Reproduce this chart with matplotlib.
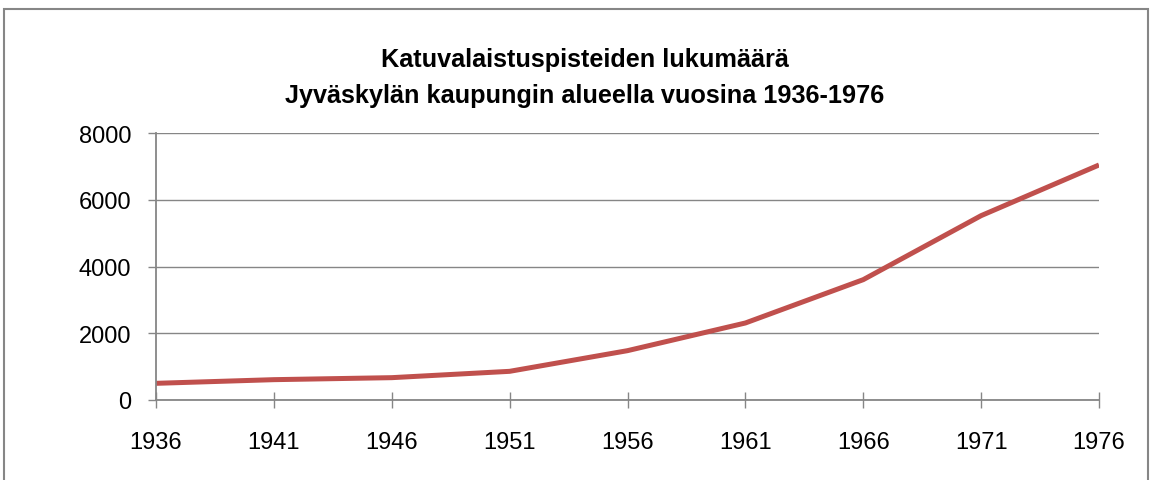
import matplotlib.pyplot as plt
from matplotlib.patches import Rectangle

# vuodet ja katuvalaistuspisteiden määrä
vuodet = ['1936', '1941', '1946', '1951', '1956', '1961', '1966', '1971', '1976']
pisteet = [500, 610, 670, 860, 1480, 2310, 3610, 5530, 7050]
y_ticks = [0, 2000, 4000, 6000, 8000]
otsikko1 = 'Katuvalaistuspisteiden lukumäärä'
otsikko2 = 'Jyväskylän kaupungin alueella vuosina 1936-1976'

plt.rcParams['font.family'] = ['Liberation Sans', 'DejaVu Sans']
harmaa = '#868686'

W, H = 1150, 481
fig = plt.figure(figsize=(W / 100, H / 100), dpi=100)

# kehys kuvan ympärillä
fig.patches.append(Rectangle((4 / W, -0.1), 1144 / W, 1.1 - 10 / H,
                             transform=fig.transFigure, fill=False,
                             edgecolor=harmaa, linewidth=1.5))

ax = fig.add_axes([156 / W, 1 - 401 / H, (1099 - 156) / W, (401 - 134.3) / H])
x = list(range(len(vuodet)))
ax.plot(x, pisteet, color='#C0504D', linewidth=3.6, solid_capstyle='butt')

ax.set_xlim(0, len(vuodet) - 1)
ax.set_ylim(0, 8000)
ax.set_xticks(x)
ax.set_xticklabels(vuodet)
ax.set_yticks(y_ticks)
ax.grid(axis='y', color=harmaa, linewidth=1)
ax.set_axisbelow(True)

for s in ['top', 'right']:
    ax.spines[s].set_visible(False)
for s in ['left', 'bottom']:
    ax.spines[s].set_color(harmaa)
    ax.spines[s].set_linewidth(1.3)

ax.tick_params(axis='x', direction='inout', length=12, width=1, color=harmaa,
               labelsize=17, pad=16)
ax.tick_params(axis='y', direction='out', length=6, width=1, color=harmaa,
               labelsize=17, pad=12)

fig.text(585 / W, 1 - 67 / H, otsikko1, ha='center', va='baseline',
         fontsize=18.2, fontweight='bold')
fig.text(585 / W, 1 - 103 / H, otsikko2, ha='center', va='baseline',
         fontsize=18.2, fontweight='bold')

fig.savefig('out.png', dpi=100)
